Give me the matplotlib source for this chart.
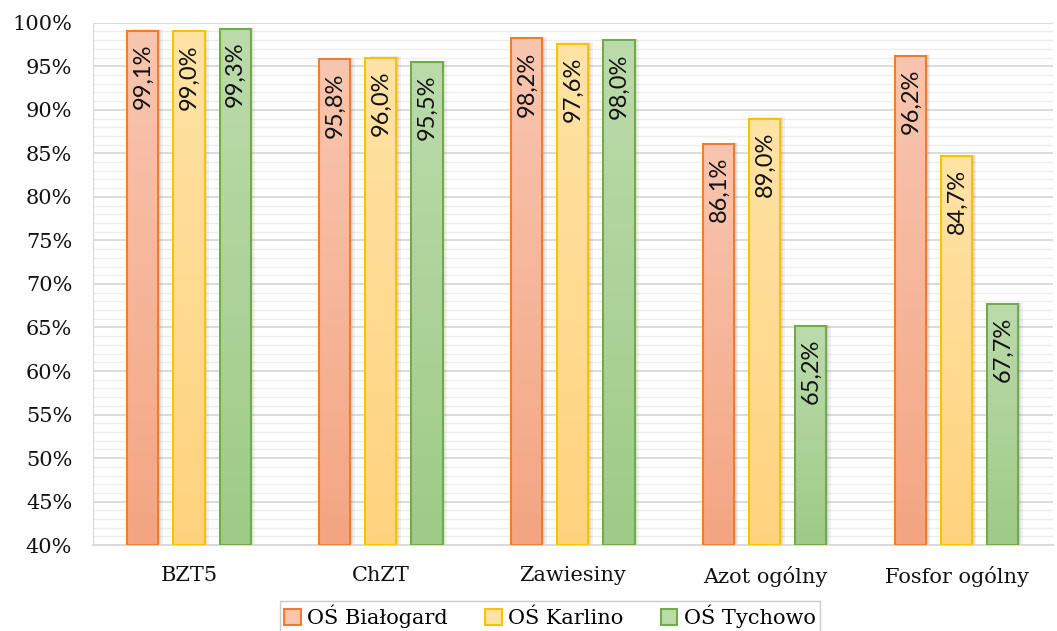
import matplotlib.pyplot as plt
import numpy as np
from matplotlib.colors import LinearSegmentedColormap
from matplotlib.patches import Patch

# Data
categories = ['BZT5', 'ChZT', 'Zawiesiny', 'Azot ogólny', 'Fosfor ogólny']
series_names = ['OŚ Białogard', 'OŚ Karlino', 'OŚ Tychowo']
bialogard = [99.1, 95.8, 98.2, 86.1, 96.2]
karlino = [99.0, 96.0, 97.6, 89.0, 84.7]
tychowo = [99.3, 95.5, 98.0, 65.2, 67.7]
yticks = np.arange(40, 101, 5)

# colours: (bottom, top, edge)
styles = [
    ('#F4A582', '#F8C6B0', '#ED7D31'),
    ('#FFD37E', '#FFE3A6', '#FFC000'),
    ('#9ECB87', '#BCDBAB', '#70AD47'),
]

serif = 'DejaVu Serif'
sans = 'Lato'

fig = plt.figure(figsize=(10.57, 6.31), dpi=100)
ax = fig.add_axes([0.088, 0.136, 0.908, 0.828])

x = np.arange(len(categories))
width = 0.162
offsets = [-0.24, 0, 0.24]
base = 40

for values, off, (c_bot, c_top, c_edge) in zip([bialogard, karlino, tychowo], offsets, styles):
    cmap = LinearSegmentedColormap.from_list('g', [c_bot, c_top])
    grad = np.linspace(0, 1, 256).reshape(-1, 1)
    bars = ax.bar(x + off, np.array(values) - base, width, bottom=base,
                  facecolor='none', edgecolor=c_edge, linewidth=1.5, zorder=4)
    for rect, v in zip(bars, values):
        x0, y0 = rect.get_x(), rect.get_y()
        w, h = rect.get_width(), rect.get_height()
        # soft shadow
        for k, a in [(0.9, 0.10), (0.6, 0.12), (0.3, 0.14)]:
            ax.add_patch(plt.Rectangle((x0 + 0.012 * k * 2, y0), w, h + 0.15 * k,
                                       facecolor='#7f7f7f', alpha=a, edgecolor='none', zorder=2))
        im = ax.imshow(grad, extent=[x0, x0 + w, y0, y0 + h], origin='lower',
                       cmap=cmap, aspect='auto', zorder=3)
        im.set_clip_path(rect)
        ax.text(x0 + w / 2, v - 1.5, f'{v:.1f}%'.replace('.', ','), rotation=90,
                ha='center', va='top', fontsize=17, family=sans, color='#111111', zorder=5)

ax.set_xlim(-0.5, len(categories) - 0.5)
ax.set_ylim(40, 100)
ax.set_yticks(yticks)
ax.set_yticklabels([f'{t}%' for t in yticks], family=serif, fontsize=15)
ax.set_yticks(np.arange(40, 101, 1), minor=True)
ax.set_xticks(x)
ax.set_xticklabels(categories, family=serif, fontsize=15)
ax.tick_params(axis='y', which='both', length=0, pad=15, colors='#111111')
ax.tick_params(axis='x', which='both', length=0, pad=15, colors='#111111')
ax.grid(True, which='major', axis='y', color='#D9D9D9', linewidth=1.3, zorder=0)
ax.grid(True, which='minor', axis='y', color='#EDEDED', linewidth=1.0, zorder=0)
ax.set_axisbelow(True)
for s in ['top', 'right']:
    ax.spines[s].set_visible(False)
ax.spines['left'].set_color('#D9D9D9')
ax.spines['bottom'].set_color('#D9D9D9')
ax.spines['bottom'].set_linewidth(1.3)

handles = [Patch(facecolor=s[1], edgecolor=s[2], linewidth=1.5) for s in styles]
leg = fig.legend(handles, series_names, loc='upper center', bbox_to_anchor=(0.52, 0.048),
                 ncol=3, frameon=True, fancybox=False, edgecolor='#BFBFBF',
                 prop={'family': serif, 'size': 15}, handlelength=0.8, handleheight=0.8,
                 handletextpad=0.3, columnspacing=1.8, borderpad=0.2, borderaxespad=0)

fig.savefig('out.png', dpi=100)
